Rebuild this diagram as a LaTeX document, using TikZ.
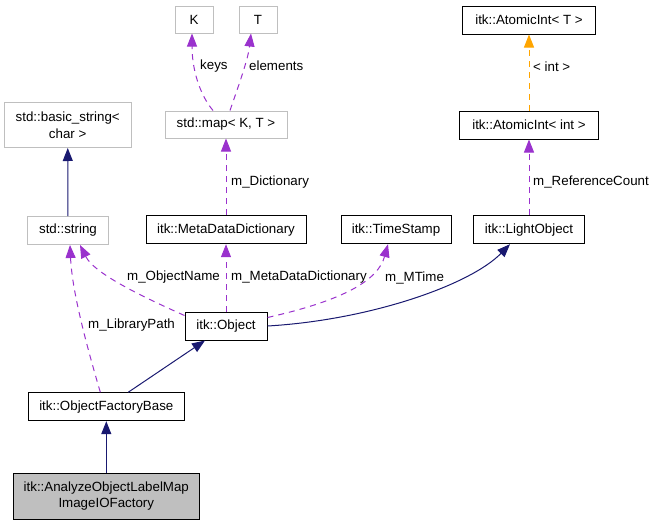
\documentclass[tikz,border=0pt]{standalone}
\usepackage{fontspec}
\setmainfont{Liberation Sans}
\usetikzlibrary{arrows.meta}
\definecolor{dxpurple}{HTML}{9A32CD}
\definecolor{dxnavy}{HTML}{191970}
\definecolor{dxorange}{HTML}{FFA500}
\definecolor{dxgray}{HTML}{BFBFBF}
\begin{document}
\begin{tikzpicture}[x=1pt,y=-1pt,
  box/.style={draw=black, line width=1pt, minimum height=28pt, inner sep=0pt,
    font=\fontsize{13.33}{16.5}\selectfont, align=center},
  extbox/.style={box, draw=dxgray},
  mainbox/.style={box, fill=dxgray},
  dtip/.tip={Triangle[length=13pt,width=10pt]},
  member/.style={draw=dxpurple, dash pattern=on 6pt off 5pt, line width=1pt, -dtip},
  tmpl/.style={draw=dxorange, dash pattern=on 6pt off 5pt, line width=1pt, -dtip},
  inherit/.style={draw=dxnavy, line width=1pt, -dtip},
  lbl/.style={font=\fontsize{13.33}{16.5}\selectfont, inner sep=0pt, anchor=west}
]
\useasboundingbox (0,0) rectangle (652,525);

% nodes
\node[extbox, minimum width=38pt, minimum height=27pt] (K) at (194,19.5) {K};
\node[extbox, minimum width=38pt, minimum height=27pt] (T) at (258,19.5) {T};
\node[extbox, minimum width=122pt, minimum height=27pt] (map) at (226,124.5) {std::map< K, T >};
\node[box, minimum width=133pt] (AT) at (529,20) {itk::AtomicInt< T >};
\node[box, minimum width=139pt] (AI) at (529,125) {itk::AtomicInt< int >};
\node[extbox, minimum width=127pt, minimum height=45pt] (bs) at (67.7,125) {std::basic\_string<\\char >};
\node[extbox, minimum width=81pt] (str) at (68,230.5) {std::string};
\node[box, minimum width=160pt] (mdd) at (226,229.7) {itk::MetaDataDictionary};
\node[box, minimum width=110pt] (ts) at (396,229.7) {itk::TimeStamp};
\node[box, minimum width=111pt] (lo) at (529,229.7) {itk::LightObject};
\node[box, minimum width=82pt] (obj) at (226,326) {itk::Object};
\node[box, minimum width=156pt] (ofb) at (106.3,406.7) {itk::ObjectFactoryBase};
\node[mainbox, minimum width=186pt, minimum height=46pt] (main) at (106.3,496) {itk::AnalyzeObjectLabelMap\\ImageIOFactory};

% edges
\draw[member] ([xshift=-13pt]map.north) .. controls (200,95) and (192,70) .. ([xshift=-2pt]K.south);
\node[lbl] (lkeys) at (200,66) {keys};
\draw[member] ([xshift=4pt]map.north) .. controls (237,90) and (248,60) .. ([xshift=-7pt]T.south);
\node[lbl] (lelem) at (249,66) {elements};

\draw[tmpl] (AI) -- (AT);
\node[lbl] (lint) at (533,67) {< int >};

\draw[inherit] (str) -- (bs);

\draw[member] (mdd) -- (map);
\node[lbl] (ldict) at (231,182) {m\_Dictionary};

\draw[member] (lo) -- (AI);
\node[lbl] (lref) at (533,182) {m\_ReferenceCount};

\draw[member] ([yshift=-4pt]obj.north west) .. controls (150,300) and (95,275) .. ([xshift=12pt]str.south);
\node[lbl, anchor=east] (lname) at (220,277.5) {m\_ObjectName};

\draw[member] (obj) -- (mdd);
\node[lbl] (lmdd) at (231,277.5) {m\_MetaDataDictionary};

\draw[member] ([yshift=-6pt]obj.north east) .. controls (345,300) and (378,280) .. ([xshift=-8pt]ts.south);
\node[lbl] (lmtime) at (385,277.5) {m\_MTime};

\draw[inherit] (obj.east) .. controls (370,320) and (470,285) .. ([xshift=-19pt]lo.south);

\draw[member] ([xshift=-6pt]ofb.north) .. controls (85,340) and (72,290) .. ([xshift=2pt]str.south);
\node[lbl] (llib) at (88,325) {m\_LibraryPath};

\draw[inherit] ([xshift=22pt]ofb.north) -- ([xshift=-21pt]obj.south);
\draw[inherit] (main) -- (ofb);
\end{tikzpicture}
\end{document}
